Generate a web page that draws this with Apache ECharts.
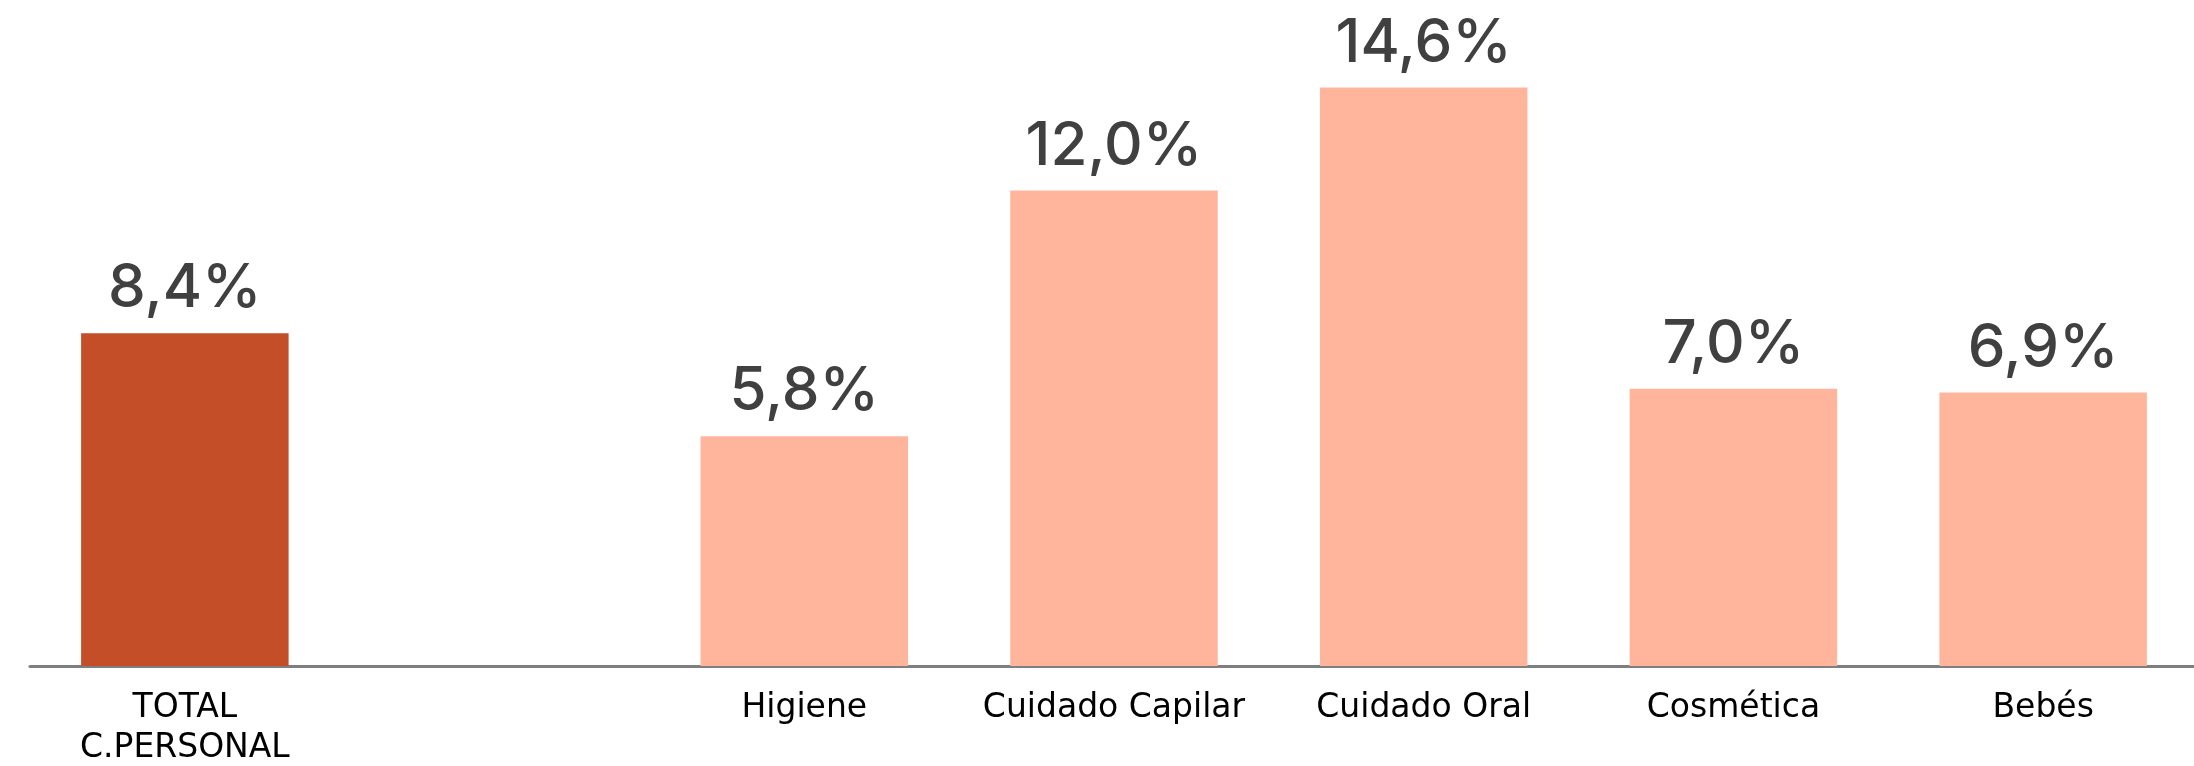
<!DOCTYPE html>
<html>
<head>
<meta charset="utf-8">
<script src="https://cdn.jsdelivr.net/npm/echarts@6/dist/echarts.min.js"></script>
<style>
  html, body { margin: 0; padding: 0; background: #fff; }
  #chart { width: 2194px; height: 766px; }
</style>
</head>
<body>
<div id="chart"></div>
<script>
// categorías (la segunda va vacía para separar el total)
var categories = ['TOTAL\nC.PERSONAL', '', 'Higiene', 'Cuidado Capilar', 'Cuidado Oral', 'Cosmética', 'Bebés'];
var values = [8.4, null, 5.8, 12.0, 14.6, 7.0, 6.9];
var barColors = ['#C44E28', '#FFB59C', '#FFB59C', '#FFB59C', '#FFB59C', '#FFB59C', '#FFB59C'];

var chart = echarts.init(document.getElementById('chart'));
chart.setOption({
  animation: false,
  grid: { left: 30, right: -4, top: 32, bottom: 100, outerBoundsMode: 'none' },
  xAxis: {
    type: 'category',
    data: categories,
    axisLine: { lineStyle: { color: '#7f7f7f', width: 3 } },
    axisTick: { show: false },
    axisLabel: {
      interval: 0,
      color: '#000',
      fontFamily: 'DejaVu Sans',
      fontSize: 33,
      lineHeight: 40,
      margin: 22
    }
  },
  yAxis: {
    type: 'value',
    min: 0,
    max: 16,
    show: false,
    splitLine: { show: false }
  },
  series: [{
    type: 'bar',
    barWidth: '67%',
    data: values.map(function (v, i) {
      return { value: v, itemStyle: { color: barColors[i] } };
    }),
    label: {
      show: true,
      position: 'top',
      distance: 14,
      color: '#404040',
      fontFamily: 'Inter',
      fontWeight: 500,
      fontSize: 60,
      formatter: function (p) {
        return p.value == null ? '' : p.value.toFixed(1).replace('.', ',') + '%';
      }
    }
  }]
});
</script>
</body>
</html>
